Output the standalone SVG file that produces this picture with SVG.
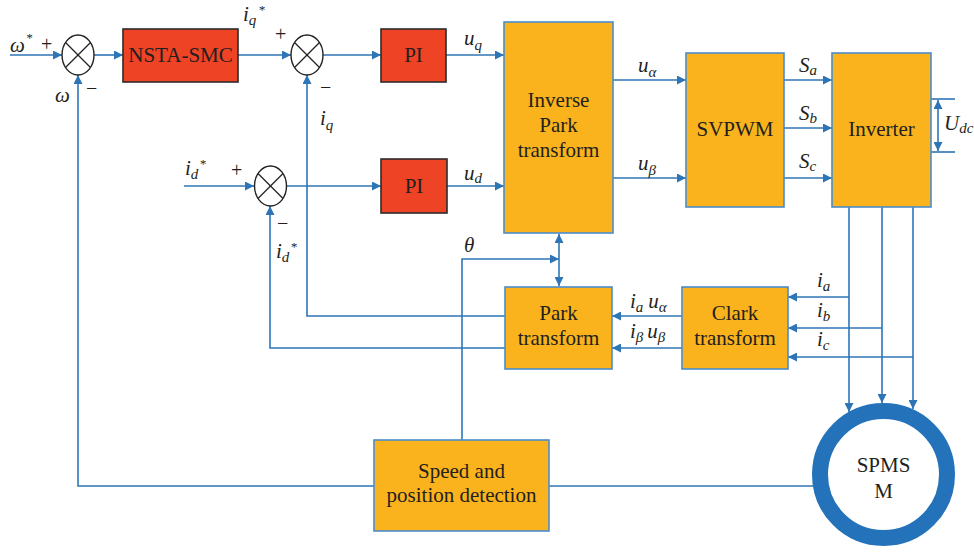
<svg xmlns="http://www.w3.org/2000/svg" width="974" height="560" viewBox="0 0 974 560">
<style>
.ln{fill:none;stroke:#2E75B6;stroke-width:1.6}
.org{fill:#FAB31C;stroke:#4A8CCB;stroke-width:1.6}
.red{fill:#EE4324;stroke:#2B2B2B;stroke-width:1.6}
.sum ellipse{fill:#fff;stroke:#222;stroke-width:1.4}
.sum line{stroke:#222;stroke-width:1.3}
.bt{font-family:'Liberation Serif','Times New Roman','DejaVu Serif',serif;font-size:21px;fill:#231F20;text-anchor:middle}
.m{font-family:'Liberation Serif','Times New Roman','DejaVu Serif',serif;font-style:italic;font-size:21px;fill:#231F20}
.s{font-size:15px}
.st{font-size:13px}
.p{font-family:'Liberation Serif','Times New Roman','DejaVu Serif',serif;font-size:20px;fill:#231F20}
</style>
<defs>
<marker id="ah" viewBox="0 0 10 10" refX="10" refY="5" markerWidth="9" markerHeight="9" markerUnits="userSpaceOnUse" orient="auto-start-reverse">
<path d="M0,0 L10,5 L0,10 z" fill="#2E75B6"/>
</marker>
</defs>
<rect width="974" height="560" fill="#fff"/>

<g id="connectors">
<line class="ln" x1="10" y1="55" x2="62" y2="55" marker-end="url(#ah)"/>
<line class="ln" x1="94" y1="55" x2="123" y2="55" marker-end="url(#ah)"/>
<line class="ln" x1="238" y1="55" x2="291" y2="55" marker-end="url(#ah)"/>
<line class="ln" x1="323" y1="55" x2="381" y2="55" marker-end="url(#ah)"/>
<line class="ln" x1="446" y1="55" x2="504" y2="55" marker-end="url(#ah)"/>
<line class="ln" x1="184" y1="186" x2="254" y2="186" marker-end="url(#ah)"/>
<line class="ln" x1="287" y1="186" x2="381" y2="186" marker-end="url(#ah)"/>
<line class="ln" x1="447" y1="186" x2="504" y2="186" marker-end="url(#ah)"/>
<line class="ln" x1="613" y1="80" x2="686" y2="80" marker-end="url(#ah)"/>
<line class="ln" x1="613" y1="178" x2="686" y2="178" marker-end="url(#ah)"/>
<line class="ln" x1="784" y1="80" x2="832" y2="80" marker-end="url(#ah)"/>
<line class="ln" x1="784" y1="128" x2="832" y2="128" marker-end="url(#ah)"/>
<line class="ln" x1="784" y1="178" x2="832" y2="178" marker-end="url(#ah)"/>
<line class="ln" x1="931" y1="99" x2="955" y2="99"/>
<line class="ln" x1="931" y1="152" x2="955" y2="152"/>
<line class="ln" x1="938" y1="100" x2="938" y2="151" marker-start="url(#ah)" marker-end="url(#ah)"/>
<line class="ln" x1="849" y1="207" x2="849" y2="412" marker-end="url(#ah)"/>
<line class="ln" x1="882" y1="207" x2="882" y2="403" marker-end="url(#ah)"/>
<line class="ln" x1="913" y1="207" x2="913" y2="409" marker-end="url(#ah)"/>
<line class="ln" x1="849" y1="297" x2="788" y2="297" marker-end="url(#ah)"/>
<line class="ln" x1="882" y1="328" x2="788" y2="328" marker-end="url(#ah)"/>
<line class="ln" x1="913" y1="357" x2="788" y2="357" marker-end="url(#ah)"/>
<line class="ln" x1="682" y1="316" x2="612" y2="316" marker-end="url(#ah)"/>
<line class="ln" x1="682" y1="348" x2="612" y2="348" marker-end="url(#ah)"/>
<polyline class="ln" points="505,316 307,316 307,75" marker-end="url(#ah)"/>
<polyline class="ln" points="505,348 270,348 270,206" marker-end="url(#ah)"/>
<polyline class="ln" points="374,486 78,486 78,75" marker-end="url(#ah)"/>
<line class="ln" x1="549" y1="486" x2="813" y2="486"/>
<polyline class="ln" points="462,440 462,259 559,259" marker-end="url(#ah)"/>
<line class="ln" x1="559" y1="234" x2="559" y2="286" marker-start="url(#ah)" marker-end="url(#ah)"/>
</g>

<g id="sum1" class="sum"><ellipse cx="78" cy="55" rx="16" ry="20"/><line x1="65.5" y1="42.5" x2="90.5" y2="67.5"/><line x1="65.5" y1="67.5" x2="90.5" y2="42.5"/></g>
<g id="sum2" class="sum"><ellipse cx="307" cy="55" rx="16" ry="20"/><line x1="294.5" y1="42.5" x2="319.5" y2="67.5"/><line x1="294.5" y1="67.5" x2="319.5" y2="42.5"/></g>
<g id="sum3" class="sum"><ellipse cx="270.5" cy="186" rx="16" ry="20"/><line x1="258" y1="173.5" x2="283" y2="198.5"/><line x1="258" y1="198.5" x2="283" y2="173.5"/></g>

<g id="nsta"><rect class="red" x="123" y="29" width="115" height="53"/><text class="bt" x="180.5" y="62">NSTA-SMC</text></g>
<g id="pi1"><rect class="red" x="381" y="29" width="65" height="53"/><text class="bt" x="413.5" y="62">PI</text></g>
<g id="pi2"><rect class="red" x="381" y="159" width="66" height="54"/><text class="bt" x="414" y="193">PI</text></g>
<g id="invpark"><rect class="org" x="504" y="22" width="109" height="211"/><text class="bt" x="558.5" y="107">Inverse</text><text class="bt" x="558.5" y="132">Park</text><text class="bt" x="558.5" y="157">transform</text></g>
<g id="svpwm"><rect class="org" x="686" y="53" width="98" height="154"/><text class="bt" x="735" y="136">SVPWM</text></g>
<g id="inverter"><rect class="org" x="832" y="53" width="99" height="154"/><text class="bt" x="881.5" y="136">Inverter</text></g>
<g id="park"><rect class="org" x="505" y="287" width="107" height="82"/><text class="bt" x="558.5" y="320">Park</text><text class="bt" x="558.5" y="345">transform</text></g>
<g id="clark"><rect class="org" x="682" y="287" width="106" height="82"/><text class="bt" x="735" y="320">Clark</text><text class="bt" x="735" y="345">transform</text></g>
<g id="speed"><rect class="org" x="374" y="440" width="175" height="91"/><text class="bt" x="461.5" y="478">Speed and</text><text class="bt" x="461.5" y="502">position detection</text></g>
<g id="spmsm"><circle cx="883.5" cy="474.5" r="63.5" fill="#fff" stroke="#2372BA" stroke-width="16"/><text class="bt" x="883.5" y="472">SPMS</text><text class="bt" x="883.5" y="498">M</text></g>

<g id="labels">
<text class="m" x="10" y="52">ω<tspan class="st" dx="1" dy="-10">*</tspan></text>
<text class="p" x="41" y="51">+</text>
<text class="m" x="55" y="102">ω</text>
<text class="p" x="86" y="95">−</text>
<text class="m" x="243" y="21">i<tspan class="s" dy="4">q</tspan><tspan class="st" dx="2" dy="-11">*</tspan></text>
<text class="p" x="275" y="41">+</text>
<text class="p" x="320" y="94">−</text>
<text class="m" x="320" y="125">i<tspan class="s" dy="5">q</tspan></text>
<text class="m" x="185" y="175">i<tspan class="s" dy="4">d</tspan><tspan class="st" dx="1" dy="-11">*</tspan></text>
<text class="p" x="231" y="177">+</text>
<text class="p" x="277" y="230">−</text>
<text class="m" x="276" y="258">i<tspan class="s" dy="4">d</tspan><tspan class="st" dx="1" dy="-11">*</tspan></text>
<text class="m" x="464" y="45">u<tspan class="s" dy="5">q</tspan></text>
<text class="m" x="464" y="180">u<tspan class="s" dy="3">d</tspan></text>
<text class="m" x="638" y="72">u<tspan class="s" dy="5">α</tspan></text>
<text class="m" x="638" y="170">u<tspan class="s" dy="5">β</tspan></text>
<text class="m" x="799" y="72">S<tspan class="s" dy="3">a</tspan></text>
<text class="m" x="799" y="120">S<tspan class="s" dy="3">b</tspan></text>
<text class="m" x="799" y="168">S<tspan class="s" dy="3">c</tspan></text>
<text class="m" x="944" y="130">U<tspan class="s" dy="3">dc</tspan></text>
<text class="m" x="817" y="287">i<tspan class="s" dy="4">a</tspan></text>
<text class="m" x="817" y="317">i<tspan class="s" dy="4">b</tspan></text>
<text class="m" x="817" y="346">i<tspan class="s" dy="4">c</tspan></text>
<text class="m" x="630" y="308">i<tspan class="s" dy="4">a</tspan><tspan dx="5" dy="-4">u</tspan><tspan class="s" dy="4">α</tspan></text>
<text class="m" x="630" y="338">i<tspan class="s" dy="4">β</tspan><tspan dx="4" dy="-4">u</tspan><tspan class="s" dy="4">β</tspan></text>
<text class="m" x="464" y="252">θ</text>
</g>
</svg>
